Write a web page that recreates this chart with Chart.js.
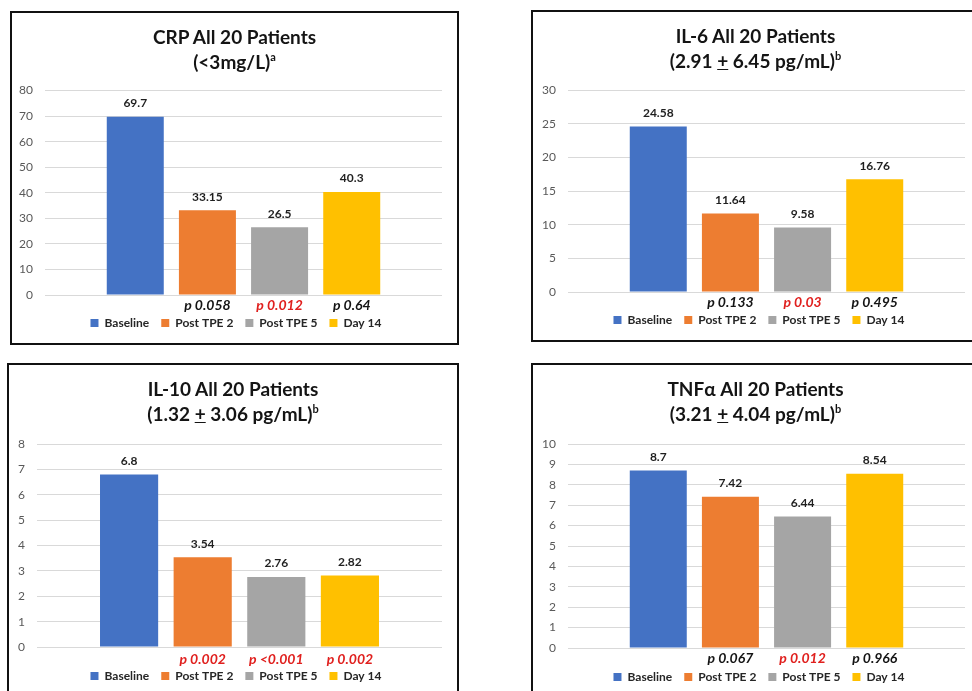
<!DOCTYPE html>
<html><head><meta charset="utf-8">
<script src="https://cdn.jsdelivr.net/npm/chart.js@4.4.0/dist/chart.umd.min.js"></script>
<style>
html,body{margin:0;padding:0;background:#fff;width:972px;height:691px;overflow:hidden;}
.panel{position:absolute;}
.panel canvas{position:absolute;left:0;top:0;}
.frame{position:absolute;left:0;top:0;right:0;bottom:0;border:2px solid #111;box-sizing:border-box;pointer-events:none;}
.title{position:absolute;left:0;right:0;top:13px;text-align:center;font-family:Lato,sans-serif;font-weight:bold;font-size:19px;line-height:25px;color:#141414;}
.title sup{font-size:11px;line-height:0;vertical-align:8px;}
</style></head><body>

<div class="panel" id="p1" style="left:10px;top:11px;width:449px;height:334px;">
  <canvas id="c1" width="449" height="334"></canvas>
  <div class="title">CRP All 20 Patients<br>(&lt;3mg/L)<sup>a</sup></div>
  <div class="frame"></div>
</div>
<div class="panel" id="p2" style="left:531px;top:10px;width:449px;height:332px;">
  <canvas id="c2" width="449" height="332"></canvas>
  <div class="title">IL-6 All 20 Patients<br>(2.91 <u>+</u> 6.45 pg/mL)<sup>b</sup></div>
  <div class="frame"></div>
</div>
<div class="panel" id="p3" style="left:7px;top:363px;width:452px;height:334px;">
  <canvas id="c3" width="452" height="334"></canvas>
  <div class="title">IL-10 All 20 Patients<br>(1.32 <u>+</u> 3.06 pg/mL)<sup>b</sup></div>
  <div class="frame"></div>
</div>
<div class="panel" id="p4" style="left:531px;top:363px;width:449px;height:336px;">
  <canvas id="c4" width="449" height="336"></canvas>
  <div class="title">TNFα All 20 Patients<br>(3.21 <u>+</u> 4.04 pg/mL)<sup>b</sup></div>
  <div class="frame"></div>
</div>

<script>
// ---- data ----
const seriesNames = ["Baseline", "Post TPE 2", "Post TPE 5", "Day 14"];

const crpValues  = [69.7, 33.15, 26.5, 40.3];
const il6Values  = [24.58, 11.64, 9.58, 16.76];
const il10Values = [6.8, 3.54, 2.76, 2.82];
const tnfValues  = [8.7, 7.42, 6.44, 8.54];

const crpTicks  = [0, 10, 20, 30, 40, 50, 60, 70, 80];
const il6Ticks  = [0, 5, 10, 15, 20, 25, 30];
const il10Ticks = [0, 1, 2, 3, 4, 5, 6, 7, 8];
const tnfTicks  = [0, 1, 2, 3, 4, 5, 6, 7, 8, 9, 10];

const crpP  = ["", "p 0.058", "p 0.012", "p 0.64"];
const il6P  = ["", "p 0.133", "p 0.03", "p 0.495"];
const il10P = ["", "p 0.002", "p <0.001", "p 0.002"];
const tnfP  = ["", "p 0.067", "p 0.012", "p 0.966"];

const crpSig  = [false, false, true, false];
const il6Sig  = [false, false, true, false];
const il10Sig = [false, true, true, true];
const tnfSig  = [false, false, true, false];

// ---- styles ----
const seriesColors = ["#4472C4", "#ED7D31", "#A5A5A5", "#FFC000"];
const FONT = "Lato";
const LEGEND_PAD = 12;

const barTextPlugin = {
  id: "barText",
  afterLayout(chart, args, opts) {
    // centre the legend row on a chosen x instead of the chart width
    const lg = chart.legend;
    if (!lg || !lg.lineWidths) return;
    const cur = (lg.left + LEGEND_PAD + lg.right - lg.lineWidths[0]) / 2;
    const want = opts.legendC - (lg.lineWidths[0] - LEGEND_PAD) / 2;
    const s = want - cur;
    lg.left += s;
    lg.right += s;
  },
  afterDatasetsDraw(chart, args, opts) {
    const ctx = chart.ctx;
    ctx.save();
    ctx.textAlign = "center";
    ctx.textBaseline = "middle";
    chart.data.datasets.forEach((ds, i) => {
      const bar = chart.getDatasetMeta(i).data[0];
      ctx.font = "bold 12px " + FONT;
      ctx.fillStyle = "#1f1f1f";
      ctx.fillText(String(ds.data[0]), bar.x, bar.y - 13.5);
      const p = opts.pLabels[i];
      if (p) {
        ctx.font = "italic bold 14px " + FONT;
        ctx.fillStyle = opts.pSig[i] ? "#E0201E" : "#141414";
        ctx.fillText(p, bar.x, chart.chartArea.bottom + opts.pGap);
      }
    });
    ctx.restore();
  }
};

function makeChart(id, values, ticks, pLabels, pSig, L) {
  return new Chart(document.getElementById(id), {
    type: "bar",
    data: {
      labels: [""],
      datasets: seriesNames.map((n, i) => ({
        label: n,
        data: [values[i]],
        backgroundColor: seriesColors[i],
        borderWidth: 0,
        categoryPercentage: 0.727,
        barPercentage: 0.79
      }))
    },
    options: {
      responsive: false,
      animation: false,
      devicePixelRatio: 1,
      layout: { padding: { left: 0, right: L.padR, top: L.padT, bottom: L.padB } },
      plugins: {
        legend: {
          position: "bottom",
          labels: { boxWidth: 8, boxHeight: 8, padding: LEGEND_PAD, color: "#262626",
                    font: { family: FONT, weight: "bold", size: 12 } }
        },
        tooltip: { enabled: false },
        title: { display: false },
        barText: { pLabels: pLabels, pSig: pSig, pGap: L.pGap, legendC: L.legendC }
      },
      scales: {
        x: {
          grid: { display: false },
          border: { display: false },
          ticks: { display: false },
          afterFit: s => { s.height = L.xH; }
        },
        y: {
          min: ticks[0],
          max: ticks[ticks.length - 1],
          afterBuildTicks: s => { s.ticks = ticks.map(v => ({ value: v })); },
          grid: { color: "#D9D9D9", lineWidth: 1, drawTicks: false },
          border: { display: false },
          ticks: { padding: 12, color: "#595959", font: { family: FONT, size: 12 } },
          afterFit: s => { s.width = L.yW; }
        }
      }
    },
    plugins: [barTextPlugin]
  });
}

function build() {
  makeChart("c1", crpValues, crpTicks, crpP, crpSig, { padT: 79.5, padR: 17, padB: 6, yW: 35, xH: 10, pGap: 10, legendC: 226 });
  makeChart("c2", il6Values, il6Ticks, il6P, il6Sig, { padT: 80, padR: 15, padB: 6, yW: 37, xH: 10, pGap: 10, legendC: 228 });
  makeChart("c3", il10Values, il10Ticks, il10P, il10Sig, { padT: 81, padR: 17, padB: 5, yW: 30, xH: 11, pGap: 12, legendC: 229 });
  makeChart("c4", tnfValues, tnfTicks, tnfP, tnfSig, { padT: 81, padR: 15, padB: 6, yW: 37, xH: 11, pGap: 10, legendC: 228 });
}

Promise.all([
  document.fonts.load("bold 12px Lato"),
  document.fonts.load("12px Lato"),
  document.fonts.load("italic bold 14px Lato")
]).then(build, build);
</script>
</body></html>
